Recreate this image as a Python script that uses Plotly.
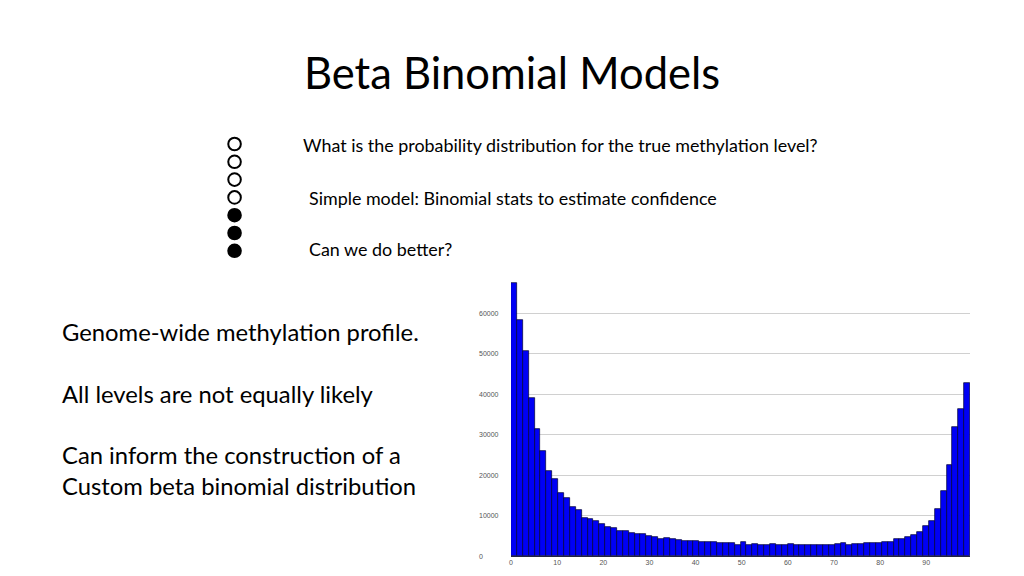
import plotly.graph_objects as go

# ---- data ----
counts = [
    67400, 58400, 50700, 39100, 31400, 26000, 21100, 19000, 15700, 14300,
    12200, 11400, 9400, 9200, 8600, 7900, 7250, 6850, 6300, 6250,
    5600, 5350, 5350, 4950, 4620, 4300, 4530, 4120, 3900, 3800,
    3800, 3780, 3550, 3480, 3470, 3300, 3150, 3100, 2800, 3350,
    2750, 2900, 2750, 2750, 2900, 2750, 2750, 2900, 2750, 2750,
    2750, 2750, 2750, 2750, 2750, 2950, 3100, 2750, 2850, 2900,
    3100, 3100, 3250, 3400, 3350, 4200, 4300, 4600, 5100, 6000,
    7400, 8700, 11700, 16000, 22600, 31900, 36400, 42900,
]
x_max = 99.5
x_ticks = [0, 10, 20, 30, 40, 50, 60, 70, 80, 90]
y_ticks = [0, 10000, 20000, 30000, 40000, 50000, 60000]
y_tick_labels = ["0", "10000", "20000", "30000", "40000", "50000", "60000"]

title_text = "Beta Binomial Models"
bullet_lines = [
    "What is the probability distribution for the true methylation level?",
    "Simple model: Binomial stats to estimate confidence",
    "Can we do better?",
]
left_lines = [
    "Genome-wide methylation profile.",
    "All levels are not equally likely",
    "Can inform the construction of a",
    "Custom beta binomial distribution",
]
circle_filled = [False, False, False, False, True, True, True]

# ---- layout helpers (page body has an 8px margin) ----
OFF = 8
W, H = 1024 - 2 * OFF, 576 - 2 * OFF
def px(x):
    return (x - OFF) / W
def py(y):
    return 1 - (y - OFF) / H

n = len(counts)
bw = x_max / n
centers = [(i + 0.5) * bw for i in range(n)]

fig = go.Figure()
fig.add_trace(go.Bar(
    x=centers, y=counts, width=bw,
    marker=dict(color="#0000F5", line=dict(color="#000030", width=0.7)),
    hoverinfo="skip",
))

FONT = "Lato"
annotations = []
annotations.append(dict(text=title_text, x=px(511), y=py(72), xref="paper", yref="paper",
                        xanchor="center", yanchor="middle", showarrow=False,
                        font=dict(family=FONT, size=43.5, color="#000000")))
bullet_pos = [(300, 145), (306, 198), (306, 249)]
for t, (bx, by) in zip(bullet_lines, bullet_pos):
    annotations.append(dict(text=t, x=px(bx), y=py(by), xref="paper", yref="paper",
                            xanchor="left", yanchor="middle", showarrow=False,
                            font=dict(family=FONT, size=17.9, color="#000000")))
left_pos = [332, 394, 455, 486]
for t, ly in zip(left_lines, left_pos):
    annotations.append(dict(text=t, x=px(58), y=py(ly), xref="paper", yref="paper",
                            xanchor="left", yanchor="middle", showarrow=False,
                            font=dict(family=FONT, size=23.8, color="#000000")))
for v, lab in zip(y_ticks, y_tick_labels):
    annotations.append(dict(text=lab, x=px(476), y=v, xref="paper", yref="y",
                            xanchor="left", yanchor="middle", showarrow=False,
                            font=dict(family="Arial", size=7, color="#555555")))

shapes = []
cy0, dy, r = 144, 17.8, 6.3
for i, filled in enumerate(circle_filled):
    cy = cy0 + i * dy
    shapes.append(dict(type="circle", xref="paper", yref="paper",
                       x0=px(233 - r), x1=px(233 + r), y0=py(cy + r), y1=py(cy - r),
                       line=dict(color="#000000", width=2),
                       fillcolor="#000000" if filled else "#FFFFFF"))

fig.update_layout(
    width=W, height=H,
    margin=dict(l=0, r=0, t=0, b=0),
    paper_bgcolor="#FFFFFF", plot_bgcolor="#FFFFFF",
    showlegend=False,
    bargap=0,
    annotations=annotations,
    shapes=shapes,
    xaxis=dict(domain=[px(510), px(970)], range=[0, x_max],
               tickmode="array", tickvals=x_ticks,
               tickfont=dict(family="Arial", size=7, color="#555555"),
               showgrid=False, zeroline=False,
               showline=True, linecolor="#222244", linewidth=1, ticks=""),
    yaxis=dict(domain=[py(556), py(281)], range=[0, 68000],
               tickmode="array", tickvals=y_ticks, showticklabels=False,
               showgrid=True, gridcolor="#D0D0D0", gridwidth=1,
               zeroline=False, showline=False, ticks=""),
)

fig.write_html("out.html")
